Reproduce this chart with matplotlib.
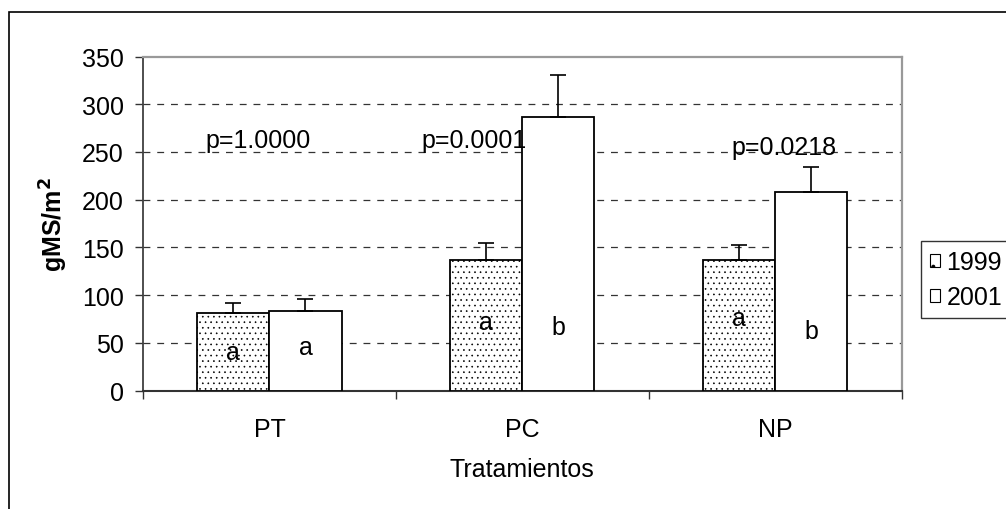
import matplotlib
matplotlib.use("Agg")
import matplotlib.pyplot as plt
from matplotlib.patches import Rectangle, Patch
import numpy as np

plt.rcParams['font.family'] = ['Liberation Sans', 'DejaVu Sans']
plt.rcParams['hatch.linewidth'] = 0.45

# ---- data ----
categories = ["PT", "PC", "NP"]
series_labels = ["1999", "2001"]
values_1999 = [81, 137, 137]
values_2001 = [83, 287, 208]
err_1999 = [11, 18, 16]
err_2001 = [13, 44, 26]
p_labels = ["p=1.0000", "p=0.0001", "p=0.0218"]
p_x = [-0.045, 0.809, 2.033]
p_y = [255, 255, 248]
letters_1999 = ["a", "a", "a"]
letters_2001 = ["a", "b", "b"]
letters_1999_y = [33, 64.6, 68.8]
letters_2001_y = [38.4, 59.4, 55]
yticks = [0, 50, 100, 150, 200, 250, 300, 350]
ylabel = "gMS/m$^\\mathbf{2}$"
xlabel = "Tratamientos"

FS = 18
W, H = 1006, 510
fig = plt.figure(figsize=(W / 100, H / 100), dpi=100)
fig.patch.set_facecolor("white")

# outer chart frame (extends past the right/bottom edges)
fig.patches.append(Rectangle((9 / W, -0.1), 1.2, 1 - 13 / H + 0.1,
                             transform=fig.transFigure, fill=False,
                             edgecolor="black", linewidth=1.2, clip_on=False))

ax = fig.add_axes([143 / W, 1 - 391.7 / H, (901.7 - 143) / W, (391.7 - 57.5) / H])

x = np.arange(len(categories))
bw = 0.285
ax.bar(x - bw / 2, values_1999, bw, color="white", edgecolor="black",
       hatch="...", linewidth=1.3, zorder=3)
ax.bar(x + bw / 2, values_2001, bw, color="white", edgecolor="black",
       linewidth=1.3, zorder=3)
ax.errorbar(x - bw / 2, values_1999, yerr=[np.zeros(3), err_1999], fmt="none",
            ecolor="black", elinewidth=1.2, capsize=6, capthick=1.2, zorder=4)
ax.errorbar(x + bw / 2, values_2001, yerr=[np.zeros(3), err_2001], fmt="none",
            ecolor="black", elinewidth=1.2, capsize=6, capthick=1.2, zorder=4)

for i in range(len(categories)):
    ax.text(p_x[i], p_y[i], p_labels[i], ha="center", va="baseline",
            fontsize=FS, zorder=5)
    ax.text(x[i] - bw / 2, letters_1999_y[i], letters_1999[i],
            ha="center", va="baseline", fontsize=FS, zorder=5)
    ax.text(x[i] + bw / 2, letters_2001_y[i], letters_2001[i],
            ha="center", va="baseline", fontsize=FS, zorder=5)

ax.set_xlim(-0.5, 2.5)
ax.set_ylim(0, 350)
ax.set_yticks(yticks)
ax.set_yticklabels([str(t) for t in yticks], fontsize=FS)
ax.set_xticks(x)
ax.set_xticklabels(categories, fontsize=FS)
ax.set_xticks([-0.5, 0.5, 1.5, 2.5], minor=True)
ax.tick_params(axis="x", which="major", length=0, pad=19)
ax.tick_params(axis="x", which="minor", length=6, width=1, color="#333333", direction="out")
ax.tick_params(axis="y", which="major", length=6, width=1, color="#333333", pad=8, direction="out")

for yv in yticks[1:-1]:
    ax.axhline(yv, color="#333333", linewidth=0.9, dashes=(5.5, 5.5), zorder=1)

ax.spines["left"].set_color("#404040")
ax.spines["left"].set_linewidth(1.3)
ax.spines["bottom"].set_color("#333333")
ax.spines["bottom"].set_linewidth(1.5)
ax.spines["top"].set_color("#999999")
ax.spines["top"].set_linewidth(1.6)
ax.spines["right"].set_color("#999999")
ax.spines["right"].set_linewidth(1.6)

fig.text(54 / W, 1 - 225 / H, ylabel, rotation=90, ha="center", va="center",
         fontsize=FS, fontweight="bold")
fig.text(522 / W, 1 - 470 / H, xlabel, ha="center", va="center", fontsize=FS)

handles = [Patch(facecolor="white", edgecolor="black", hatch=".", linewidth=0.8),
           Patch(facecolor="white", edgecolor="black", linewidth=0.8)]
leg = fig.legend(handles, series_labels, loc="upper left",
                 bbox_to_anchor=(921 / W, 1 - 242.3 / H), bbox_transform=fig.transFigure,
                 borderaxespad=0, fontsize=FS, frameon=True, fancybox=False,
                 handlelength=0.42, handleheight=0.42, handletextpad=0.25,
                 labelspacing=0.45, borderpad=0.35)
leg.get_frame().set_edgecolor("black")
leg.get_frame().set_linewidth(1.0)

fig.savefig("out.png", dpi=100)
